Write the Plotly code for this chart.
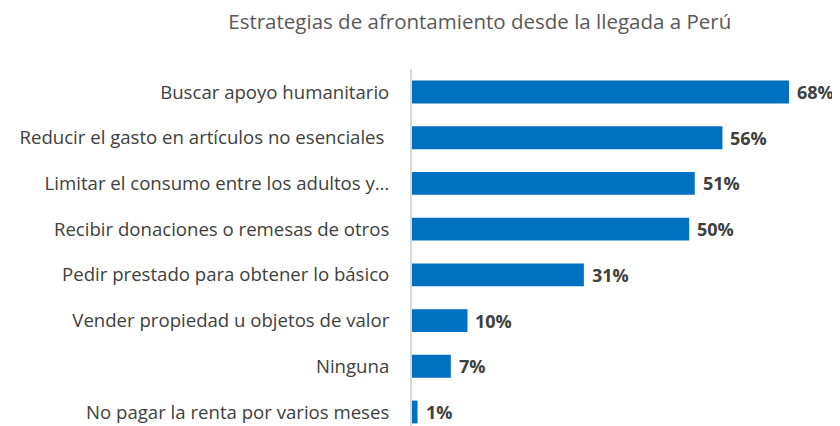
import plotly.graph_objects as go

# bottom-to-top order
categories = [
    "No pagar la renta por varios meses",
    "Ninguna",
    "Vender propiedad u objetos de valor",
    "Pedir prestado para obtener lo básico",
    "Recibir donaciones o remesas de otros",
    "Limitar el consumo entre los adultos y…",
    "Reducir el gasto en artículos no esenciales ",
    "Buscar apoyo humanitario",
]
values = [1, 7, 10, 31, 50, 51, 56, 68]
value_labels = [f"{v}%" for v in values]

font_family = "'Open Sans', sans-serif"

fig = go.Figure(
    go.Bar(
        x=values,
        y=categories,
        orientation="h",
        marker=dict(color="#0070C0", line=dict(width=0)),
        hoverinfo="none",
    )
)

# value labels to the right of each bar
for cat, val, lab in zip(categories, values, value_labels):
    fig.add_annotation(
        x=val,
        y=cat,
        text=lab,
        showarrow=False,
        xanchor="left",
        xshift=6,
        font=dict(family=font_family, size=18, color="#404040", weight="bold"),
    )

# the page has an 8px body margin, so the figure is 8px smaller
fig.update_layout(
    width=832,
    height=418,
    margin=dict(l=404, r=0, t=61, b=0),
    paper_bgcolor="white",
    plot_bgcolor="white",
    bargap=0.5,
    showlegend=False,
    title=dict(
        text="Estrategias de afrontamiento desde la llegada a Perú",
        x=0.567,
        xanchor="center",
        y=0.9665,
        yanchor="middle",
        font=dict(family=font_family, size=20.5, color="#595959"),
    ),
    xaxis=dict(
        range=[0, 77.2],
        visible=False,
    ),
    yaxis=dict(
        type="category",
        categoryorder="array",
        categoryarray=categories,
        range=[-0.306, 7.503],
        showgrid=False,
        showline=True,
        linecolor="#d9d9d9",
        linewidth=2,
        ticks="",
        ticklabelstandoff=17,
        tickfont=dict(family=font_family, size=18.6, color="#404040"),
    ),
)

fig.write_html("out.html")
